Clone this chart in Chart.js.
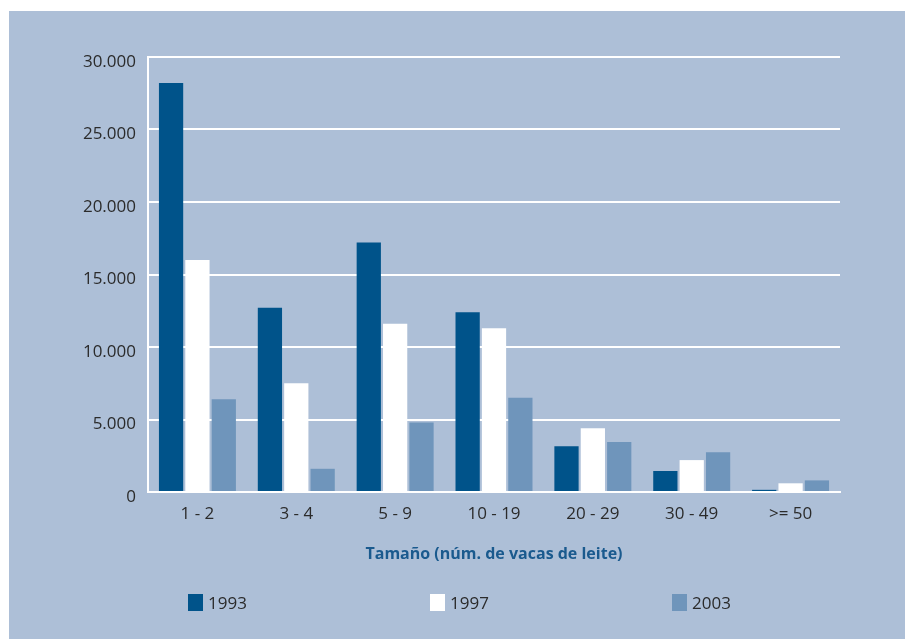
<!DOCTYPE html>
<html>
<head>
<meta charset="utf-8">
<script src="https://cdn.jsdelivr.net/npm/chart.js@4"></script>
<style>
    body { margin: 0; background: #ffffff; }
    #panel {
        position: absolute; left: 9px; top: 11px;
        width: 896px; height: 628px;
        background: #adbfd7;
    }
    #chart { position: absolute; left: 0; top: 0; }
    #legend {
        position: absolute; left: 179px; top: 580px;
        display: flex;
        font-family: "Open Sans", sans-serif; font-size: 17px; color: #2b2b2b;
    }
    .item { width: 242px; display: flex; align-items: center; }
    .box { width: 15px; height: 17px; margin-right: 5px; }
</style>
</head>
<body>
<div id="panel">
    <canvas id="chart" width="896" height="628"></canvas>
    <div id="legend"></div>
</div>
<script>
// Explotaciones por tamaño (núm. de vacas de leite)
const categories = ['1 - 2', '3 - 4', '5 - 9', '10 - 19', '20 - 29', '30 - 49', '>= 50'];
const years = ['1993', '1997', '2003'];
const values1993 = [28200, 12700, 17200, 12400, 3150, 1450, 150];
const values1997 = [16000, 7500, 11600, 11300, 4400, 2200, 600];
const values2003 = [6400, 1600, 4800, 6500, 3450, 2750, 800];
const yTicks = [0, 5000, 10000, 15000, 20000, 25000, 30000];

const colors = ['#00538a', '#ffffff', '#6f95bb'];
const font = 'Open Sans';

function fmt(v) {
    return String(v).replace(/\B(?=(\d{3})+(?!\d))/g, '.');
}

const datasets = [values1993, values1997, values2003].map((data, i) => ({
    label: years[i],
    data: data,
    backgroundColor: colors[i],
    borderWidth: 0,
    categoryPercentage: 0.8,
    barPercentage: 0.92
}));

const chart = new Chart(document.getElementById('chart'), {
    type: 'bar',
    data: { labels: categories, datasets: datasets },
    options: {
        responsive: false,
        animation: false,
        layout: { padding: { left: 0, top: 46, right: 65, bottom: 67 } },
        plugins: { legend: { display: false }, tooltip: { enabled: false } },
        scales: {
            x: {
                grid: { display: false, drawTicks: false },
                border: { color: '#ffffff', width: 2 },
                ticks: { color: '#2b2b2b', padding: 12, font: { family: font, size: 17 } },
                title: {
                    display: true,
                    text: 'Tamaño (núm. de vacas de leite)',
                    color: '#1a5a8e',
                    font: { family: font, size: 16, weight: 'bold' },
                    padding: { top: 0, bottom: 8 }
                },
                afterFit: s => { s.height = 80; }
            },
            y: {
                min: 0, max: 30000,
                afterBuildTicks: s => { s.ticks = yTicks.map(v => ({ value: v })); },
                grid: { color: '#ffffff', lineWidth: 2, drawTicks: false },
                border: { color: '#ffffff', width: 2 },
                ticks: {
                    color: '#2b2b2b', padding: 12, labelOffset: 5,
                    font: { family: font, size: 17 },
                    callback: v => fmt(v)
                },
                afterFit: s => { s.width = 139; }
            }
        }
    }
});

// Leyenda
const legend = document.getElementById('legend');
chart.data.datasets.forEach(ds => {
    const item = document.createElement('div');
    item.className = 'item';
    item.innerHTML = `<span class="box" style="background:${ds.backgroundColor}"></span><span>${ds.label}</span>`;
    legend.appendChild(item);
});
</script>
</body>
</html>
